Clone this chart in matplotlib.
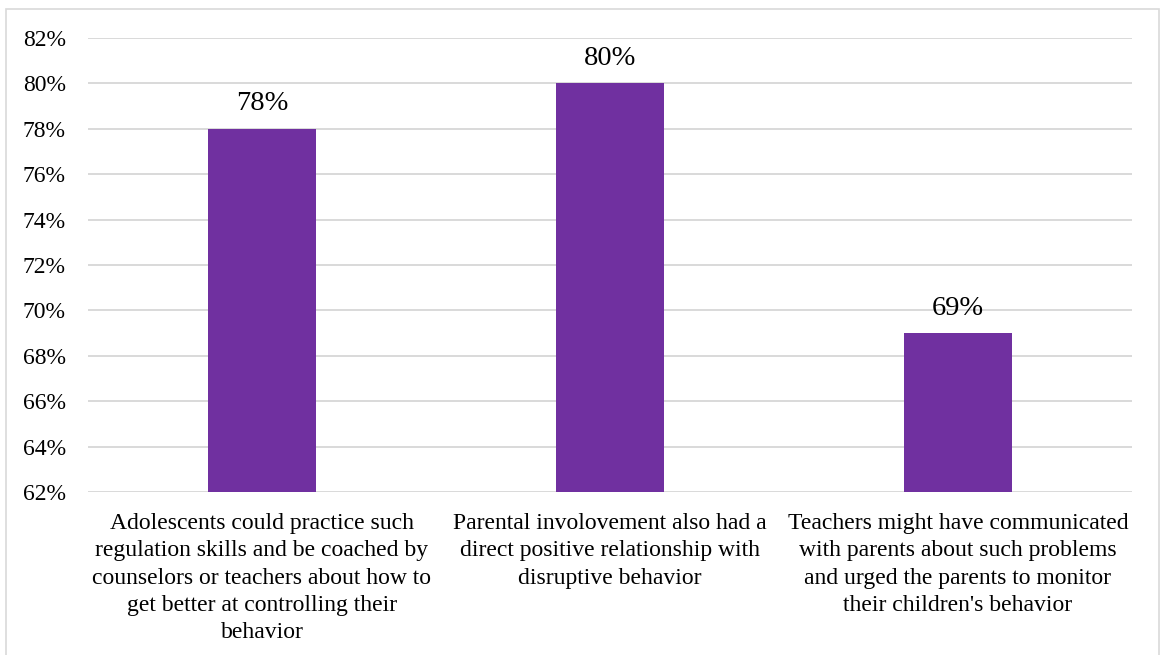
import matplotlib
matplotlib.use("Agg")
import matplotlib.pyplot as plt
from matplotlib.patches import Rectangle
from matplotlib.ticker import FuncFormatter

# chart data
categories = [
    "Adolescents could practice such\nregulation skills and be coached by\ncounselors or teachers about how to\nget better at controlling their\nbehavior",
    "Parental involovement also had a\ndirect positive relationship with\ndisruptive behavior",
    "Teachers might have communicated\nwith parents about such problems\nand urged the parents to monitor\ntheir children's behavior",
]
values = [78, 80, 69]
y_ticks = [62, 64, 66, 68, 70, 72, 74, 76, 78, 80, 82]

plt.rcParams['font.family'] = ['Liberation Serif', 'DejaVu Serif']

W, H = 1160, 655
fig = plt.figure(figsize=(W / 100, H / 100), dpi=100)
ax = fig.add_axes([88 / W, 1 - 492 / H, (1132 - 88) / W, (492 - 38) / H])

x = range(len(categories))
bars = ax.bar(x, values, width=0.313, color='#7030A0', zorder=3)

ax.set_ylim(62, 82)
ax.set_xlim(-0.5, len(categories) - 0.5)
ax.set_yticks(y_ticks)
ax.yaxis.set_major_formatter(FuncFormatter(lambda v, p: f"{v:.0f}%"))
ax.set_xticks(list(x))
ax.set_xticklabels(categories, fontsize=17, linespacing=1.4)
ax.tick_params(axis='x', length=0, pad=15)
ax.tick_params(axis='y', length=0, pad=16, labelsize=17)

ax.grid(axis='y', color='#D9D9D9', linewidth=1.4, zorder=0)
for s in ax.spines.values():
    s.set_visible(False)

for b, v in zip(bars, values):
    ax.annotate(f"{v}%", (b.get_x() + b.get_width() / 2, v),
                xytext=(0, 9), textcoords='offset points',
                ha='center', va='bottom', fontsize=20.5)

# outer chart border
fig.patches.append(Rectangle((6 / W, -0.01), (1159 - 6) / W, 1.01 - 9 / H,
                             transform=fig.transFigure, fill=False,
                             edgecolor='#D9D9D9', linewidth=1.2))

fig.savefig("out.png", dpi=100)
